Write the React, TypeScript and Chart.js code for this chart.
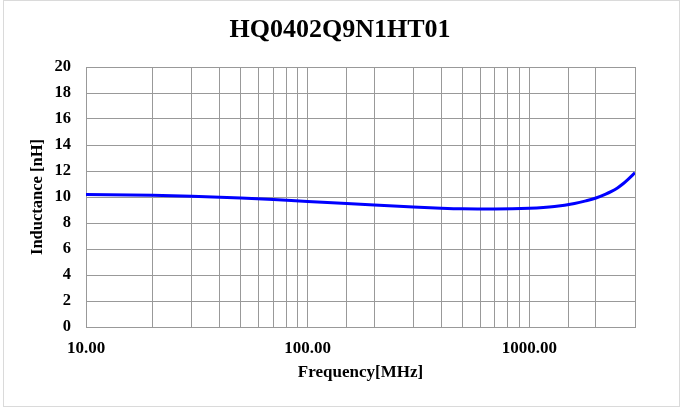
import React, { useEffect, useRef } from "react";
import { Chart, registerables } from "chart.js";

Chart.register(...registerables);

const TITLE = "HQ0402Q9N1HT01";
const X_TITLE = "Frequency[MHz]";
const Y_TITLE = "Inductance [nH]";

const frequencies = [10, 20, 30, 50, 70, 100, 150, 200, 300, 400, 500, 700, 1000, 1300, 1600, 1800, 2000, 2200, 2350, 2500, 2650, 2800, 3000];
const inductance = [10.2, 10.13, 10.05, 9.92, 9.8, 9.65, 9.5, 9.38, 9.23, 9.14, 9.09, 9.07, 9.13, 9.27, 9.5, 9.7, 9.92, 10.2, 10.43, 10.7, 11.02, 11.38, 11.87];
const xLabelTicks = [10, 100, 1000];
const X_MIN = 10;
const X_MAX = 3000;
const Y_MIN = 0;
const Y_MAX = 20;
const Y_STEP = 2;

const FONT = "'Liberation Serif', 'Times New Roman', serif";
const GRID = "#999999";

export default function App() {
  const canvasRef = useRef<HTMLCanvasElement | null>(null);

  useEffect(() => {
    const canvas = canvasRef.current;
    if (!canvas) return;
    const chart = new Chart(canvas, {
      type: "line",
      data: {
        datasets: [
          {
            label: "L",
            data: frequencies.map((f, i) => ({ x: f, y: inductance[i] })),
            borderColor: "#0000ff",
            backgroundColor: "#0000ff",
            borderWidth: 3,
            pointRadius: 0,
            cubicInterpolationMode: "monotone",
            fill: false,
          },
        ],
      },
      options: {
        responsive: false,
        animation: false,
        layout: { padding: { left: 45, right: 45, top: 0, bottom: 0 } },
        plugins: {
          legend: { display: false },
          tooltip: { enabled: false },
          title: {
            display: true,
            text: TITLE,
            color: "#000",
            font: { family: FONT, size: 26, weight: "bold", lineHeight: 1.2 },
            padding: { top: 14.4, bottom: 21.4 },
          },
        },
        scales: {
          x: {
            type: "logarithmic",
            min: X_MIN,
            max: X_MAX,
            afterFit: (scale: any) => {
              scale.height = 80;
            },
            grid: { color: GRID, lineWidth: 1, drawTicks: false },
            border: { display: true, color: GRID, width: 1 },
            ticks: {
              autoSkip: false,
              maxRotation: 0,
              padding: 11,
              color: "#000",
              font: { family: FONT, size: 17, weight: "bold", lineHeight: 1.2 },
              callback: (value: any) => {
                const v = Number(value);
                return xLabelTicks.includes(v) ? v.toFixed(2) : "";
              },
            },
            title: {
              display: true,
              text: X_TITLE,
              color: "#000",
              font: { family: FONT, size: 17, weight: "bold", lineHeight: 1.2 },
              padding: { top: 0, bottom: 23.8 },
            },
          },
          y: {
            type: "linear",
            min: Y_MIN,
            max: Y_MAX,
            afterFit: (scale: any) => {
              scale.width = 41;
            },
            grid: { color: GRID, lineWidth: 1, drawTicks: false },
            border: { display: true, color: GRID, width: 1 },
            ticks: {
              stepSize: Y_STEP,
              padding: 15,
              color: "#000",
              font: { family: FONT, size: 16.5, weight: "bold", lineHeight: 1.2 },
            },
            title: {
              display: true,
              text: Y_TITLE,
              color: "#000",
              font: { family: FONT, size: 16.5, weight: "bold", lineHeight: 1.2 },
              padding: { top: -16.9, bottom: 0 },
            },
          },
        },
      },
    });
    return () => chart.destroy();
  }, []);

  return (
    <div style={{ position: "fixed", left: 0, top: 0, width: 680, height: 407, background: "#fff" }}>
      <canvas ref={canvasRef} width={680} height={407} style={{ display: "block" }} />
      <div
        style={{
          position: "absolute",
          left: 3,
          top: 0,
          width: 677,
          height: 407,
          border: "1px solid #dadada",
          boxSizing: "border-box",
          pointerEvents: "none",
        }}
      />
    </div>
  );
}
